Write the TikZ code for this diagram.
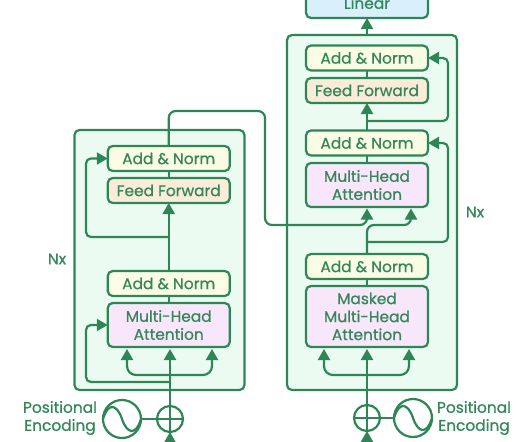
\documentclass[tikz,border=0pt]{standalone}
\usepackage{fontspec}
\setmainfont{Poppins}[RawFeature={embolden=0.8}]
\usetikzlibrary{arrows.meta,bending}
\definecolor{gline}{HTML}{2E8555}
\definecolor{gtext}{HTML}{358759}
\definecolor{stackfill}{HTML}{EBFBF1}
\definecolor{normfill}{HTML}{FBFCE4}
\definecolor{ffill}{HTML}{FBEBD9}
\definecolor{mhafill}{HTML}{F8E7FA}
\definecolor{linfill}{HTML}{D9EFFB}
\tikzset{
  every node/.style={font=\fontsize{15.4}{18}\selectfont,text=gtext,inner sep=0pt,outer sep=0pt},
  stack/.style={draw=gline,line width=2.2pt,fill=stackfill,rounded corners=5pt,minimum width=170pt,anchor=north},
  blockbox/.style={draw=gline,line width=2.2pt,rounded corners=5pt,minimum width=122pt,align=center},
  norm/.style={blockbox,fill=normfill,minimum height=25pt},
  ffwd/.style={blockbox,fill=ffill,minimum height=25pt},
  mha/.style={blockbox,fill=mhafill,minimum height=44pt},
  masked/.style={blockbox,fill=mhafill,minimum height=61pt},
  linbox/.style={blockbox,fill=linfill,minimum height=30pt},
  disc/.style={circle,draw=gline,line width=2.2pt,fill=white},
  conn/.style={draw=gline,line width=2.2pt,rounded corners=5pt},
  arr/.style={conn,-{Triangle[length=11pt,width=12pt,flex=0]}},
  twoarr/.style={conn,{Triangle[length=11pt,width=12pt,flex=0]}-{Triangle[length=11pt,width=12pt,flex=0]},rounded corners=9pt},
  lab/.style={align=center}
}
\begin{document}
\begin{tikzpicture}[x=1pt,y=-1pt]
\useasboundingbox (0,0) rectangle (531,442);
\clip (0,0) rectangle (531,442);
\fill[white] (0,0) rectangle (531,442);
% stacks
\node[stack,minimum height=260pt] (enc) at (159.5,130) {};
\node[stack,minimum height=355pt] (dec) at (372,35) {};
% encoder blocks
\node[norm] (ean2) at (168.75,158.5) {Add \& Norm};
\node[ffwd] (eff) at (168.75,190.5) {Feed Forward};
\node[norm] (ean1) at (168.75,283.5) {Add \& Norm};
\node[mha] (emha) at (168.75,325) {Multi-Head\\Attention};
% decoder blocks
\node[linbox] (lin) at (367,3) {Linear};
\node[norm] (dan3) at (367,58) {Add \& Norm};
\node[ffwd] (dff) at (367,90.5) {Feed Forward};
\node[norm] (dan2) at (367,143) {Add \& Norm};
\node[mha] (dmha) at (367,185) {Multi-Head\\Attention};
\node[norm] (dan1) at (367,266.5) {Add \& Norm};
\node[masked] (dmask) at (367,316.5) {Masked\\Multi-Head\\Attention};
% positional encoding
\node[disc,minimum size=26pt] (eplus) at (170,419) {};
\node[disc,minimum size=38pt] (esin) at (122,419) {};
\node[disc,minimum size=26pt] (dplus) at (367,418) {};
\node[disc,minimum size=38pt] (dsin) at (413,418) {};
\draw[gline,line width=2.2pt] (eplus.west) -- (eplus.east) (eplus.north) -- (eplus.south);
\draw[gline,line width=2.2pt] (dplus.west) -- (dplus.east) (dplus.north) -- (dplus.south);
\draw[gline,line width=2.2pt] (esin.west) .. controls (108,402) and (117,404) .. (122,419) .. controls (127,434) and (136,436) .. (esin.east);
\draw[gline,line width=2.2pt] (dsin.west) .. controls (399,401) and (408,403) .. (413,418) .. controls (418,433) and (427,435) .. (dsin.east);
\draw[conn] (esin) -- (eplus);
\draw[conn] (dplus) -- (dsin);
\node[lab] (lpe) at (60,418) {Positional\\Encoding};
\node[lab] (rpe) at (474,418) {Positional\\Encoding};
\node (nl) at (57,259) {Nx};
\node (nr) at (475,212) {Nx};
% free-end coordinates
\coordinate (einb) at (170,444);
\coordinate (dinb) at (367,444);
\coordinate (ea1) at (127,349);
\coordinate (ea2) at (170,349);
\coordinate (ea3) at (212,349);
\coordinate (eb1) at (127,375);
\coordinate (eb3) at (212,375);
\coordinate (eres) at (170,382);
\coordinate (eresl) at (86,382);
\coordinate (eresu) at (86,325);
\coordinate (eskip) at (168.75,237);
\coordinate (eskl) at (86,237);
\coordinate (eskt) at (86,158.5);
\coordinate (da1) at (324,349);
\coordinate (da2) at (367,349);
\coordinate (da3) at (409,349);
\coordinate (db1) at (324,375);
\coordinate (db3) at (409,375);
\coordinate (ex1) at (168.75,111);
\coordinate (ex2) at (265,111);
\coordinate (ex3) at (265,225);
\coordinate (ex4) at (367,225);
\coordinate (dt1) at (367,208.5);
\coordinate (dt2) at (411,208.5);
\coordinate (dq1) at (367,225);
\coordinate (dq2) at (411,225);
\coordinate (dq0) at (367,242);
\coordinate (dq3) at (448,242);
\coordinate (dq4) at (448,143);
\coordinate (dk0) at (367,121);
\coordinate (dk1) at (448,121);
\coordinate (dk2) at (448,58);
% encoder connectors
\draw[arr] (einb) -- (eplus.south);
\draw[arr] (eplus.north) -- (ea2);
\draw[twoarr] (ea1) -- (eb1) -- (eb3) -- (ea3);
\draw[arr] (eres) -- (eresl) -- (eresu) -- (emha.west);
\draw[conn] (emha.north) -- (ean1.south);
\draw[arr] (ean1.north) -- (eff.south);
\draw[conn] (eff.north) -- (ean2.south);
\draw[arr] (eskip) -- (eskl) -- (eskt) -- (ean2.west);
% decoder connectors
\draw[arr] (dinb) -- (dplus.south);
\draw[arr] (dplus.north) -- (da2);
\draw[twoarr] (da1) -- (db1) -- (db3) -- (da3);
\draw[conn] (dmask.north) -- (dan1.south);
\draw[arr,rounded corners=7pt] (dan1.north) -- (dq1) -- (dq2) -- (dt2);
\draw[arr] (dq0) -- (dq3) -- (dq4) -- (dan2.east);
\draw[arr,rounded corners=7pt] (ean2.north) -- (ex1) -- (ex2) -- (ex3) -- (ex4) -- (dt1);
\draw[conn] (dmha.north) -- (dan2.south);
\draw[arr] (dan2.north) -- (dff.south);
\draw[conn] (dff.north) -- (dan3.south);
\draw[arr] (dk0) -- (dk1) -- (dk2) -- (dan3.east);
\draw[arr] (lin.south |- dec.north) -- (lin.south);
\end{tikzpicture}
\end{document}
